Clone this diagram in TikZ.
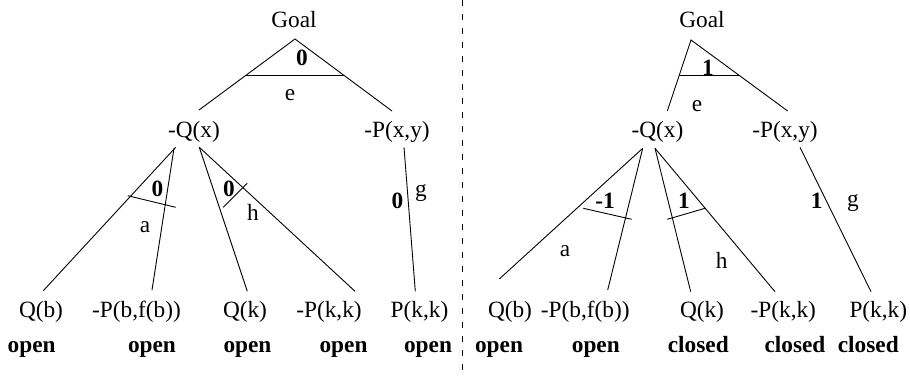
\documentclass[tikz,border=0pt]{standalone}
\usepackage{fontspec}
\setmainfont{Liberation Serif}
\begin{document}
\begin{tikzpicture}[x=1pt,y=-1pt,
  lab/.style={anchor=base,inner sep=0pt,font=\fontsize{23.3}{27}\selectfont},
  stat/.style={anchor=base,inner sep=0pt,font=\fontsize{23.3}{27}\selectfont\bfseries},
  edge/.style={line width=0.9pt},
  sep/.style={line width=0.8pt,dash pattern=on 6pt off 8pt}]
\useasboundingbox (0,0) rectangle (910,378);

% ---------------- left tree ----------------
\node[lab] (goalL) at (294,27.5) {Goal};
\node[lab] (qxL) at (194,137) {-Q(x)};
\node[lab] (pxyL) at (397,137) {-P(x,y)};
\node[lab] (qbL) at (41,317) {Q(b)};
\node[lab] (pbfL) at (136.5,317) {-P(b,f(b))};
\node[lab] (qkL) at (245,317) {Q(k)};
\node[lab] (pkkL) at (329,317) {-P(k,k)};
\node[lab] (PkkL) at (419.5,317) {P(k,k)};
\node[stat] (s1L) at (31.7,352) {open};
\node[stat] (s2L) at (152,352) {open};
\node[stat] (s3L) at (247.5,352) {open};
\node[stat] (s4L) at (343.5,352) {open};
\node[stat] (s5L) at (428,352) {open};

\coordinate (gaL) at (295,39);
\coordinate (gqL) at (199,110);
\coordinate (gpL) at (392,111);
\coordinate (qaL) at (175.7,147.3);
\coordinate (qbtL) at (43.3,290.7);
\coordinate (qa2L) at (174,148.3);
\coordinate (pbtL) at (152,290);
\coordinate (qhL) at (199.3,147.3);
\coordinate (qktL) at (247.3,291.3);
\coordinate (pktL) at (355,291.3);
\coordinate (pgL) at (404,147.3);
\coordinate (PktL) at (415.3,291.3);

\draw[edge] (gqL) -- (gaL) -- (gpL);
\draw[edge] (245.9,75.3) -- (343.9,75.3);
\draw[edge] (qaL) -- (qbtL);
\draw[edge] (qa2L) -- (pbtL);
\draw[edge] (qhL) -- (qktL);
\draw[edge] (qhL) -- (pktL);
\draw[edge] (pgL) -- (PktL);
\draw[edge] (127.7,195.7) -- (175.7,207.3);
\draw[edge] (223.3,207.3) -- (247.3,183.3);

\node[stat] (n0L) at (302,65) {0};
\node[lab] (eL) at (290,100) {e};
\node[stat] (naL) at (157.5,196.7) {0};
\node[lab] (aL) at (145,232.7) {a};
\node[stat] (nhL) at (229,196.7) {0};
\node[lab] (hL) at (253,220.7) {h};
\node[stat] (ngL) at (397.5,208.3) {0};
\node[lab] (gL) at (421,196.7) {g};

% ---------------- separator ----------------
\coordinate (sepT) at (462,0);
\coordinate (sepB) at (462,374);
\draw[sep] (sepT) -- (sepB);

% ---------------- right tree ----------------
\node[lab] (goalR) at (702,27.5) {Goal};
\node[lab] (qxR) at (657.5,137) {-Q(x)};
\node[lab] (pxyR) at (785,137) {-P(x,y)};
\node[lab] (qbR) at (510,317) {Q(b)};
\node[lab] (pbfR) at (585.3,317) {-P(b,f(b))};
\node[lab] (qkR) at (702,317) {Q(k)};
\node[lab] (pkkR) at (783.3,317) {-P(k,k)};
\node[lab] (PkkR) at (878.3,317) {P(k,k)};
\node[stat] (s1R) at (499,352) {open};
\node[stat] (s2R) at (595.8,352) {open};
\node[stat] (s3R) at (698.3,352) {closed};
\node[stat] (s4R) at (795,352) {closed};
\node[stat] (s5R) at (868.3,352) {closed};

\coordinate (gaR) at (691,40);
\coordinate (gqR) at (667.3,111);
\coordinate (gpR) at (787.7,111);
\coordinate (qaR) at (642.7,148.3);
\coordinate (qbtR) at (499.3,279);
\coordinate (pbtR) at (607.7,290);
\coordinate (qhR) at (655,148.3);
\coordinate (qktR) at (690.7,291.7);
\coordinate (pktR) at (775,291.7);
\coordinate (pgR) at (800,147.3);
\coordinate (PktR) at (871,291.7);

\draw[edge] (gqR) -- (gaR) -- (gpR);
\draw[edge] (679.2,75.3) -- (739.1,75.3);
\draw[edge] (qaR) -- (qbtR);
\draw[edge] (qaR) -- (pbtR);
\draw[edge] (qhR) -- (qktR);
\draw[edge] (qhR) -- (pktR);
\draw[edge] (pgR) -- (PktR);
\draw[edge] (583.3,208.3) -- (631.7,219.3);
\draw[edge] (667.3,219.3) -- (705,208.3);

\node[stat] (n1R) at (708,75) {1};
\node[lab] (eR) at (697,111.7) {e};
\node[stat] (naR) at (605,208.3) {-1};
\node[lab] (aR) at (565,256) {a};
\node[stat] (nhR) at (684,208.3) {1};
\node[lab] (hR) at (721.7,268.3) {h};
\node[stat] (ngR) at (816.7,208.3) {1};
\node[lab] (gR) at (853,206) {g};
\end{tikzpicture}
\end{document}
